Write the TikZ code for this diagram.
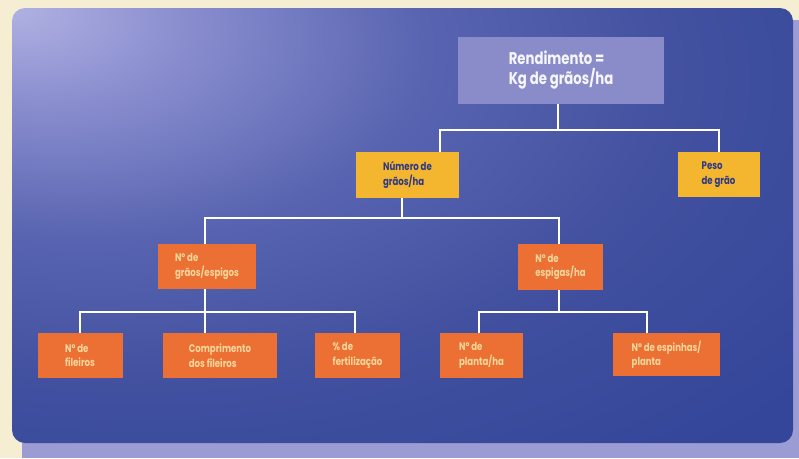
\documentclass[tikz,border=0pt]{standalone}
\usepackage{fontspec}
\newfontfamily\cf[FakeStretch=0.78]{Poppins}
\definecolor{cream}{HTML}{F6EED2}
\definecolor{lav}{HTML}{9C9CD4}
\definecolor{topfill}{HTML}{898CC9}
\definecolor{yel}{HTML}{F4B52F}
\definecolor{ytext}{HTML}{2E3A85}
\definecolor{ora}{HTML}{EC6F34}
\definecolor{otext}{HTML}{F8D69A}
\definecolor{bgA}{HTML}{B0B1E2}
\definecolor{bgB}{HTML}{8A8ECF}
\definecolor{bgC}{HTML}{5864B0}
\definecolor{bgD}{HTML}{41509F}
\definecolor{bgE}{HTML}{34469A}
\pgfdeclareradialshading{bgshade}{\pgfpoint{-25bp}{25bp}}{color(0bp)=(bgA); color(9bp)=(bgB); color(22bp)=(bgC); color(36bp)=(bgD); color(52bp)=(bgE); color(120bp)=(bgE)}
\tikzset{
  topbox/.style={fill=topfill, text=white!92!topfill, font=\cf\bfseries\fontsize{17}{20}\selectfont, align=left, inner sep=0pt},
  ybox/.style={fill=yel, text=ytext, font=\cf\bfseries\fontsize{11}{14.5}\selectfont, align=left, inner sep=0pt},
  obox/.style={fill=ora, text=otext, font=\cf\bfseries\fontsize{11}{14.5}\selectfont, align=left, inner sep=0pt},
  link/.style={draw=white, line width=1.6pt}
}
\begin{document}
\begin{tikzpicture}[x=1pt,y=-1pt]
\useasboundingbox (0,0) rectangle (799,458);
\fill[cream] (0,0) rectangle (799,458);
\fill[lav] (22,20) rectangle (799,458);
\shade[shading=bgshade, rounded corners=13pt] (12,8) rectangle (793,443);
% boxes
\node[topbox, minimum width=206pt, minimum height=67pt] (top) at (561,70.5) {Rendimento =\\Kg de grãos/ha};
\node[ybox, minimum width=103pt, minimum height=46pt] (num) at (407.5,175) {Número de\\grãos/ha};
\node[ybox, minimum width=82pt, minimum height=45pt] (peso) at (718.5,174.5) {Peso\\de grão};
\node[obox, minimum width=98pt, minimum height=45pt] (ngr) at (207,266.5) {Nº de\\grãos/espigos};
\node[obox, minimum width=85pt, minimum height=46pt] (nesp) at (560.5,267) {Nº de\\espigas/ha};
\node[obox, minimum width=85pt, minimum height=45pt] (fil) at (80,355.5) {Nº de\\fileiros};
\node[obox, minimum width=114pt, minimum height=45pt] (comp) at (220,355.5) {Comprimento\\dos fileiros};
\node[obox, minimum width=85pt, minimum height=45pt] (fert) at (357.5,355.5) {\% de\\fertilização};
\node[obox, minimum width=83pt, minimum height=45pt] (plan) at (481.5,355.5) {Nº de\\planta/ha};
\node[obox, minimum width=107pt, minimum height=43pt] (espi) at (666.5,354.5) {Nº de espinhas/\\planta};
% junction coordinates
\coordinate (j1) at (558,130);
\coordinate (j2) at (402,218);
\coordinate (j3) at (205,312);
\coordinate (j4) at (559,312);
% connectors
\draw[link] ([xshift=-3pt]top.south) -- (j1);
\draw[link] ([xshift=32.5pt]num.north) |- (j1) -| ([xshift=0.5pt]peso.north);
\draw[link] ([xshift=-5.5pt]num.south) -- (j2);
\draw[link] (j2) -| ([xshift=-2pt]ngr.north);
\draw[link] (j2) -| ([xshift=-1.5pt]nesp.north);
\draw[link] ([xshift=-2pt]ngr.south) -- (j3);
\draw[link] ([xshift=-1.5pt]nesp.south) -- (j4);
\draw[link] (j3) -| (fil.north);
\draw[link] (j3) -| ([xshift=-15pt]comp.north);
\draw[link] (j3) -| ([xshift=-2.5pt]fert.north);
\draw[link] (j4) -| ([xshift=-2.5pt]plan.north);
\draw[link] (j4) -| ([xshift=-19.5pt]espi.north);
\end{tikzpicture}
\end{document}
